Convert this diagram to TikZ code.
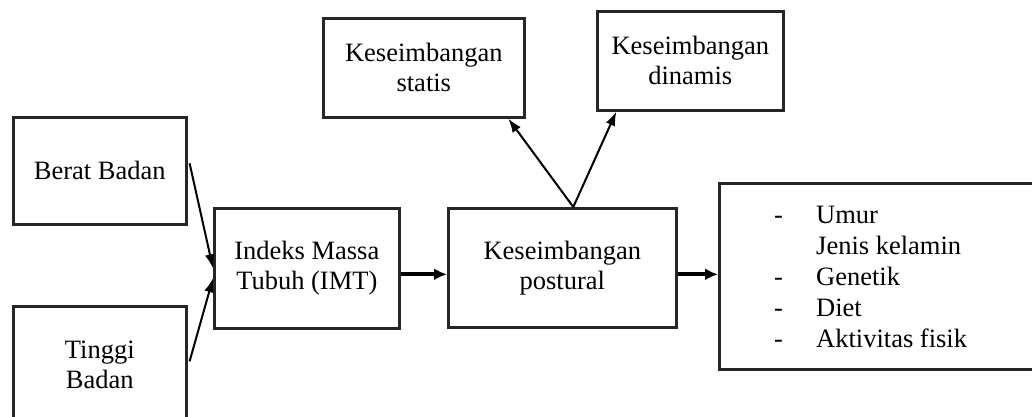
\documentclass[tikz,border=0pt]{standalone}
\usepackage{fontspec}
\setmainfont{Liberation Serif}
\usetikzlibrary{arrows.meta,calc}
\tikzset{
  box/.style={draw=black!85, line width=2.6pt, rectangle, inner sep=0pt, anchor=north west, align=center,
    font=\fontsize{26.5}{30}\selectfont},
  thinarrow/.style={line width=2pt, -{Latex[length=14pt,width=10pt]}},
  thickarrow/.style={line width=4.2pt, -{Latex[length=13pt,width=12pt]}},
}
\begin{document}
\begin{tikzpicture}[x=1pt,y=-1pt]
\useasboundingbox (0,0) rectangle (1032,416);
\clip (0,0) rectangle (1032,416);
\fill[white] (0,0) rectangle (1032,416);
\node[box, minimum width=173pt, minimum height=107pt] (berat) at (12,116) {Berat Badan};
\node[box, minimum width=173pt, minimum height=118pt] (tinggi) at (12,305) {Tinggi\\Badan};
\node[box, minimum width=185pt, minimum height=120pt] (imt) at (213,207) {Indeks Massa\\Tubuh (IMT)};
\node[box, minimum width=228pt, minimum height=119pt] (post) at (447,207) {Keseimbangan\\postural};
\node[box, minimum width=201pt, minimum height=99pt] (stat) at (322,17) {Keseimbangan\\statis};
\node[box, minimum width=186pt, minimum height=99pt] (dina) at (596,10) {Keseimbangan\\dinamis};
\node[box, minimum width=330pt, minimum height=186pt] (fac) at (718,182) {};
\node[anchor=base west, inner sep=0pt, font=\fontsize{26.5}{31}\selectfont] (list) at (774,223)
  {\begin{tabular}[t]{@{}l@{}}
   \makebox[42pt][l]{-}Umur\\
   \makebox[42pt][l]{}Jenis kelamin\\
   \makebox[42pt][l]{-}Genetik\\
   \makebox[42pt][l]{-}Diet\\
   \makebox[42pt][l]{-}Aktivitas fisik
   \end{tabular}};
\draw[thinarrow] ([xshift=2pt,yshift=7.5pt]berat.east) -- (imt.west);
\draw[thinarrow] ([xshift=2pt,yshift=4pt]tinggi.east) -- ([yshift=-10pt]imt.west);
\draw[thinarrow] ([xshift=11pt]post.north) -- ([xshift=84.5pt]stat.south);
\draw[thinarrow] ([xshift=11pt]post.north) -- ([xshift=-74pt]dina.south);
\draw[thickarrow] ([yshift=-6pt]imt.east) -- ([yshift=-6pt]imt.east -| post.west);
\draw[thickarrow] ([yshift=-6.5pt]post.east) -- ([yshift=-6.5pt]post.east -| fac.west);
\end{tikzpicture}
\end{document}
